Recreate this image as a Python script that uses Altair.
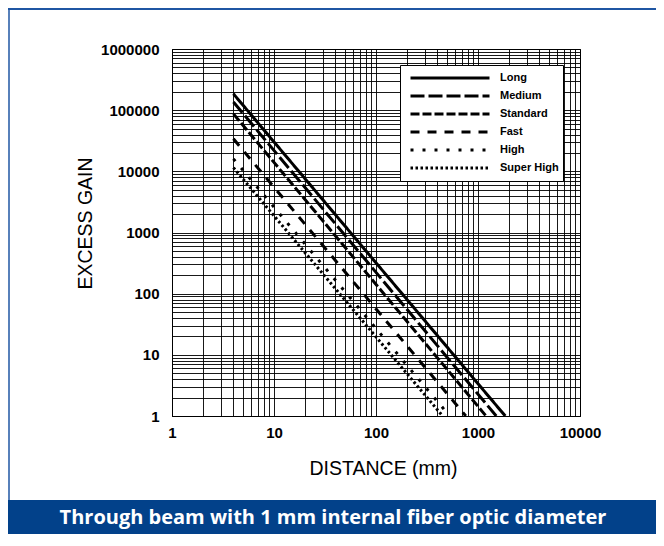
import altair as alt
import pandas as pd

# ---- data ----
series = ["Long", "Medium", "Standard", "Fast", "High", "Super High"]
start_distance = [4, 4, 4, 4, 4, 4]
start_gain = [185000, 136000, 87000, 34000, 16000, 11500]
end_distance = [1850, 1510, 1200, 760, 527, 450]
end_gain = [1, 1, 1, 1, 1, 1]
dash_styles = [[1, 0], [14, 4], [9, 3], [9, 8], [3, 9], [2.5, 2.5]]

x_major = [1, 10, 100, 1000, 10000]
y_major = [1, 10, 100, 1000, 10000, 100000, 1000000]
multiples = [1, 2, 3, 4, 5, 6, 7, 8, 9]
x_ticks = sorted({m * v for v in x_major[:-1] for m in multiples} | set(x_major))
y_ticks = sorted({m * v for v in y_major[:-1] for m in multiples} | set(y_major))

footer_text = "Through beam with 1 mm internal fiber optic diameter"
x_title = "DISTANCE (mm)"
y_title = "EXCESS GAIN"

rows = []
for i, s in enumerate(series):
    rows.append({"series": s, "pt": 0, "distance": start_distance[i], "gain": start_gain[i]})
    rows.append({"series": s, "pt": 1, "distance": end_distance[i], "gain": end_gain[i]})
df = pd.DataFrame(rows)

SANS = "'Liberation Sans', Arial, sans-serif"

x_major_expr = "indexof([1,10,100,1000,10000], datum.value) >= 0 ? format(datum.value, 'd') : ''"
y_major_expr = "indexof([1,10,100,1000,10000,100000,1000000], datum.value) >= 0 ? format(datum.value, 'd') : ''"

lines = alt.Chart(df).mark_line(color="black", strokeWidth=3, clip=True).encode(
    x=alt.X("distance:Q",
            scale=alt.Scale(type="log", domain=[1, 10000]),
            axis=alt.Axis(values=x_ticks, labelExpr=x_major_expr, title=x_title,
                          labelOverlap=False, labelFlush=False, ticks=False,
                          labelPadding=9, titlePadding=19, titleX=211)),
    y=alt.Y("gain:Q",
            scale=alt.Scale(type="log", domain=[1, 1000000]),
            axis=alt.Axis(values=y_ticks, labelExpr=y_major_expr, title=y_title,
                          labelOverlap=False, labelFlush=False, ticks=False,
                          labelPadding=13, titlePadding=5, titleY=174)),
    strokeDash=alt.StrokeDash("series:N",
                              scale=alt.Scale(domain=series, range=dash_styles),
                              legend=alt.Legend(title=None, orient="none", legendX=228, legendY=16,
                                                symbolType="stroke", symbolSize=6241,
                                                symbolStrokeWidth=3, symbolStrokeColor="black",
                                                symbolOffset=5,
                                                clipHeight=18, labelFont=SANS, labelFontSize=11,
                                                labelFontWeight="bold", labelColor="black",
                                                labelOffset=9, fillColor="white",
                                                strokeColor="black", padding=4, rowPadding=0)),
    order="pt:Q",
)

frame_df = pd.DataFrame({"text": [footer_text]})
band = alt.Chart(frame_df).mark_rect(color="#02418a").encode(
    x=alt.value(-164), x2=alt.value(484), y=alt.value(451), y2=alt.value(485))
footer = alt.Chart(frame_df).mark_text(color="white", font="'Open Sans', sans-serif",
                                       fontSize=20, fontWeight="bold",
                                       align="center", baseline="middle").encode(
    x=alt.value(161), y=alt.value(469), text="text:N")
top_border = alt.Chart(frame_df).mark_rule(color="#1f56a3", strokeWidth=2).encode(
    x=alt.value(-164), x2=alt.value(484), y=alt.value(-40))
left_border = alt.Chart(frame_df).mark_rule(color="#1f56a3", strokeWidth=1.5).encode(
    x=alt.value(-163), y=alt.value(-41), y2=alt.value(451))

chart = alt.layer(band, footer, top_border, left_border, lines).properties(
    width=408, height=367,
    autosize=alt.AutoSizeParams(type="none"),
    padding={"left": 164, "top": 41, "right": 76, "bottom": 118},
).configure_view(
    stroke="black", strokeWidth=1
).configure_axis(
    grid=True, gridColor="black", gridWidth=1, gridOpacity=0.9,
    domainColor="black", domainWidth=1,
    labelFont=SANS, labelFontSize=15, labelFontWeight="bold", labelColor="black",
    titleFont=SANS, titleFontSize=19.5, titleFontWeight="normal", titleColor="black",
)

chart.save("out.html", embed_options={"renderer": "svg", "actions": False})
